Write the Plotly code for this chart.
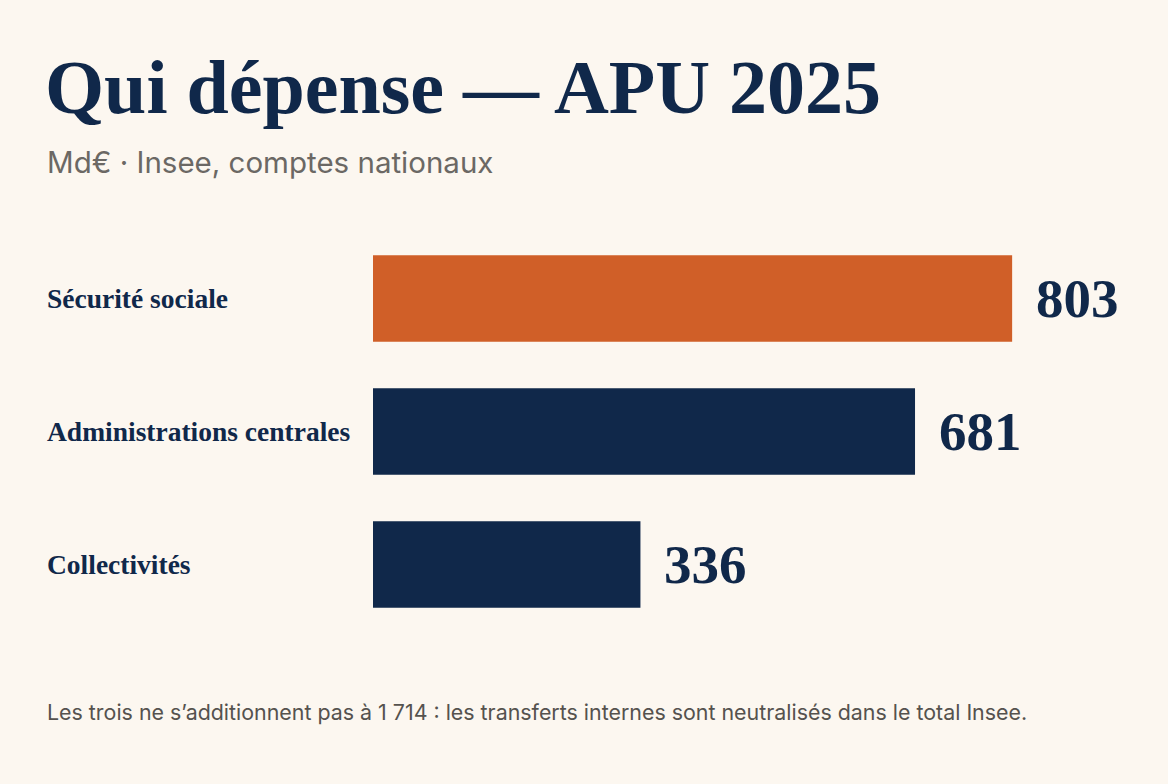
import plotly.graph_objects as go

# data
categories = ["Sécurité sociale", "Administrations centrales", "Collectivités"]
values = [803, 681, 336]
bar_colors = ["#d05f28", "#10284a", "#10284a"]

title = "Qui dépense — APU 2025"
subtitle = "Md€ · Insee, comptes nationaux"
footnote = ("Les trois ne s’additionnent pas à 1 714 : les transferts internes "
            "sont neutralisés dans le total Insee.")

bg = "#fcf7f0"
navy = "#10284a"
serif = "Liberation Serif, Times New Roman, serif"
sans = "Inter, Roboto, Liberation Sans, sans-serif"

fig = go.Figure()

fig.add_trace(go.Bar(
    x=values,
    y=categories,
    orientation="h",
    width=0.65,
    marker=dict(color=bar_colors, line_width=0),
    hoverinfo="skip",
))

left = -0.418  # ~47px in paper units

annotations = []
# category labels, left aligned
for cat in categories:
    annotations.append(dict(
        x=left, xref="paper", y=cat, yref="y",
        text="<b>%s</b>" % cat, showarrow=False,
        xanchor="left", yanchor="middle",
        font=dict(family=serif, size=27.5, color=navy),
    ))
# value labels
for cat, v in zip(categories, values):
    annotations.append(dict(
        x=v, xref="x", y=cat, yref="y",
        text="<b>%d</b>" % v, showarrow=False,
        xanchor="left", yanchor="middle", xshift=22,
        font=dict(family=serif, size=55, color=navy),
    ))
annotations.append(dict(
    x=left, xref="paper", y=1.175, yref="paper",
    text=subtitle, showarrow=False, xanchor="left", yanchor="middle",
    font=dict(family=sans, size=29.5, color="#6b6864"),
))
annotations.append(dict(
    x=left, xref="paper", y=-0.203, yref="paper",
    text=footnote, showarrow=False, xanchor="left", yanchor="middle",
    font=dict(family=sans, size=21.4, color="#55524e"),
))

fig.update_layout(
    width=1168, height=784,
    paper_bgcolor=bg, plot_bgcolor=bg,
    margin=dict(l=373, r=11, t=232, b=153),
    showlegend=False,
    title=dict(
        text="<b>%s</b>" % title,
        x=45 / 1168, xanchor="left", xref="container",
        y=1 - 86 / 784, yanchor="middle", yref="container",
        font=dict(family=serif, size=76, color=navy),
    ),
    xaxis=dict(range=[0, 985], visible=False, fixedrange=True),
    yaxis=dict(autorange="reversed", visible=False, fixedrange=True),
    annotations=annotations,
)

fig.write_html(
    "out.html",
    config={"displayModeBar": False},
    post_script="document.body.style.margin='0';document.body.style.background='%s';" % bg,
)
